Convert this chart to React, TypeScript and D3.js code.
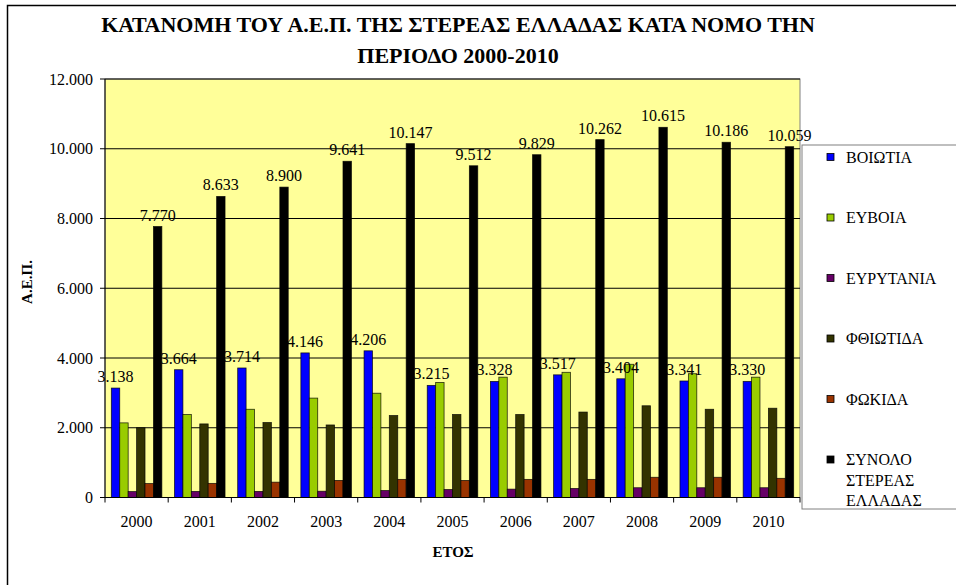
import * as d3 from "d3";

const years = ["2000", "2001", "2002", "2003", "2004", "2005", "2006", "2007", "2008", "2009", "2010"];
const seriesNames = ["ΒΟΙΩΤΙΑ", "ΕΥΒΟΙΑ", "ΕΥΡΥΤΑΝΙΑ", "ΦΘΙΩΤΙΔΑ", "ΦΩΚΙΔΑ", "ΣΥΝΟΛΟ ΣΤΕΡΕΑΣ ΕΛΛΑΔΑΣ"];
const seriesColors = ["#0000ff", "#99cc00", "#660066", "#333300", "#993300", "#000000"];

const voiotia = [3138, 3664, 3714, 4146, 4206, 3215, 3328, 3517, 3404, 3341, 3330];
const evoia = [2140, 2380, 2530, 2850, 2990, 3300, 3450, 3590, 3820, 3550, 3450];
const evrytania = [170, 175, 175, 180, 200, 230, 240, 260, 280, 280, 280];
const fthiotida = [2000, 2110, 2150, 2080, 2350, 2380, 2380, 2450, 2630, 2530, 2560];
const fokida = [400, 405, 440, 490, 520, 490, 520, 520, 580, 580, 550];
const synolo = [7770, 8633, 8900, 9641, 10147, 9512, 9829, 10262, 10615, 10186, 10059];

const allSeries = [voiotia, evoia, evrytania, fthiotida, fokida, synolo];
const labelledSeries = [0, 5];
const yTicks = [0, 2000, 4000, 6000, 8000, 10000, 12000];

const fmt = d3.formatLocale({ decimal: ",", thousands: ".", grouping: [3], currency: ["", "€"] }).format(",");

const W = 956;
const H = 585;
const plot = { left: 105, right: 800, top: 79, bottom: 497.5 };
const FONT = "'Times New Roman', 'Liberation Serif', Tinos, 'DejaVu Serif', serif";

export default function App() {
  const x = d3.scaleBand().domain(years).range([plot.left, plot.right]).paddingInner(0).paddingOuter(0);
  const xs = d3.scaleBand<number>().domain(d3.range(allSeries.length)).range([0, x.bandwidth()]).paddingInner(0).paddingOuter(0.75);
  const y = d3.scaleLinear().domain([0, 12000]).range([plot.bottom, plot.top]);

  const boundaries = years.map((yr) => x(yr)!).concat([plot.right]);

  return (
    <svg width={W} height={H} style={{ position: "absolute", left: 0, top: 0 }}>
      <g style={{ fontFamily: FONT }}>
        <rect x={0} y={0} width={W} height={H} fill="#fff" />
        {/* outer frame, cut by the image edge */}
        <rect x={7.5} y={5.5} width={W + 20} height={H + 20} fill="none" stroke="#000" strokeWidth={1.5} />

        <text x={458} y={32} textAnchor="middle" fontSize={22} fontWeight="bold">
          ΚΑΤΑΝΟΜΗ ΤΟΥ Α.Ε.Π. ΤΗΣ ΣΤΕΡΕΑΣ ΕΛΛΑΔΑΣ ΚΑΤΑ ΝΟΜΟ ΤΗΝ
        </text>
        <text x={458} y={63} textAnchor="middle" fontSize={22} fontWeight="bold">
          ΠΕΡΙΟΔΟ 2000-2010
        </text>

        {/* plot area */}
        <rect x={plot.left} y={plot.top} width={plot.right - plot.left} height={plot.bottom - plot.top} fill="#ffff99" stroke="#808080" strokeWidth={1} />
        {yTicks.map((t) => (
          <g key={t}>
            {t > 0 && <line x1={plot.left} x2={plot.right} y1={y(t)} y2={y(t)} stroke="#000" strokeWidth={1} />}
            <line x1={plot.left - 5} x2={plot.left} y1={y(t)} y2={y(t)} stroke="#000" />
            <text x={plot.left - 12} y={y(t)} dy="0.35em" textAnchor="end" fontSize={16}>{fmt(t)}</text>
          </g>
        ))}

        {years.map((yr, i) =>
          allSeries.map((s, k) => {
            const bx = x(yr)! + xs(k)!;
            return (
              <rect key={yr + k} x={bx} y={y(s[i])} width={xs.bandwidth()} height={plot.bottom - y(s[i])}
                fill={seriesColors[k]} stroke="#000" strokeWidth={0.8} strokeOpacity={0.8} />
            );
          })
        )}

        {years.map((yr, i) =>
          labelledSeries.map((k) => (
            <text key={"l" + yr + k} x={x(yr)! + xs(k)! + xs.bandwidth() / 2} y={y(allSeries[k][i]) - 6}
              textAnchor="middle" fontSize={16}>{fmt(allSeries[k][i])}</text>
          ))
        )}

        {/* axes */}
        <line x1={plot.left} x2={plot.left} y1={plot.top} y2={plot.bottom} stroke="#000" />
        <line x1={plot.left} x2={plot.right} y1={plot.bottom} y2={plot.bottom} stroke="#000" />
        {boundaries.map((b, i) => (
          <line key={"t" + i} x1={b} x2={b} y1={plot.bottom} y2={plot.bottom + 5} stroke="#000" />
        ))}
        {years.map((yr) => (
          <text key={"x" + yr} x={x(yr)! + x.bandwidth() / 2} y={527} textAnchor="middle" fontSize={16}>{yr}</text>
        ))}

        <text x={453} y={557} textAnchor="middle" fontSize={15} fontWeight="bold">ΕΤΟΣ</text>
        <text transform="translate(32,282) rotate(-90)" textAnchor="middle" fontSize={15} fontWeight="bold">Α.Ε.Π.</text>

        {/* legend */}
        <rect x={802} y={145} width={200} height={364} fill="#fff" stroke="#808080" />
        {seriesNames.map((name, k) => {
          const cy = 157 + k * 60.5;
          const lines = k === 5 ? ["ΣΥΝΟΛΟ", "ΣΤΕΡΕΑΣ", "ΕΛΛΑΔΑΣ"] : [name];
          return (
            <g key={name}>
              <rect x={827} y={cy - 3.5} width={7} height={7} fill={seriesColors[k]} stroke="#000" strokeWidth={0.8} />
              {lines.map((ln, j) => (
                <text key={ln} x={846} y={cy + j * 20.5} dy="0.35em" fontSize={16}>{ln}</text>
              ))}
            </g>
          );
        })}
      </g>
    </svg>
  );
}
